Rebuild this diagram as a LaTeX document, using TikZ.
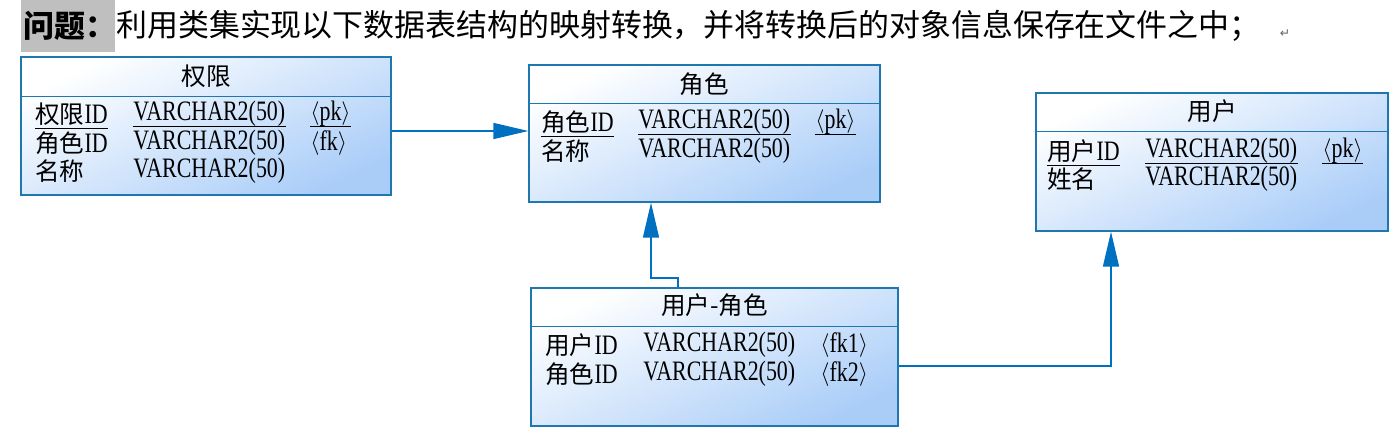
\documentclass[tikz,border=0pt]{standalone}
\usepackage{fontspec}
\setmainfont{Liberation Serif}[FakeStretch=0.78]
\newfontfamily\cjk{Noto Sans CJK SC}
\newfontfamily\sym{DejaVu Sans}
\usetikzlibrary{arrows.meta}
\definecolor{tblline}{RGB}{30,120,175}
\definecolor{tblfill}{RGB}{170,205,248}
\definecolor{fkline}{RGB}{0,112,192}
\newcommand{\zh}[1]{{\cjk\fontsize{14}{17}\selectfont #1}}
\newcommand{\ky}[1]{\raisebox{0.6pt}{\scalebox{0.78}{$\langle$}}#1\raisebox{0.6pt}{\scalebox{0.78}{$\rangle$}}}

\tikzset{tbl/.style={draw=tblline,line width=0.8pt,top color=white,bottom color=tblfill,shading angle=25,inner sep=0pt},
	tblname/.style={font=\cjk\fontsize{14}{16}\selectfont,inner sep=0pt},
	col/.style={anchor=west,inner sep=0pt,font=\fontsize{16}{17}\selectfont},
	pkline/.style={black,line width=0.6pt},
	fk/.style={draw=fkline,line width=0.85pt,-{Triangle[length=0.7cm,width=0.32cm]}}}

\begin{document}
\begin{tikzpicture}[x=0.02cm,y=-0.02cm]
		\useasboundingbox (0,0) rectangle (1400,435);

		% title
		\node[fill=black!25,minimum width=1.88cm,minimum height=1.04cm,inner sep=0pt] (tbox) at (68,26) {};
		\node[anchor=west,inner sep=0pt,font=\cjk\fontsize{17.6}{20}\selectfont\bfseries] (tq) at (23,26) {问题：};
		\node[anchor=west,inner sep=0pt,font=\cjk\fontsize{17.6}{20}\selectfont] (tt) at (116,26) {利用类集实现以下数据表结构的映射转换，并将转换后的对象信息保存在文件之中；};
		\node[inner sep=0pt,font=\sym\fontsize{7}{8}\selectfont,text=black!60] (tr) at (1285,34) {↵};

		% 权限
		\node[tbl,minimum width=7.4cm,minimum height=2.76cm] (qx) at (206,126) {};
		\draw[tblline,line width=0.8pt] ([yshift=-0.8cm]qx.north west) -- ([yshift=-0.8cm]qx.north east);
		\node[tblname] (qxn) at (206,76) {权限};
		\node[col] (qx1a) at (35,114) {\zh{权限}ID};
		\node[col] (qx1b) at (133,114) {VARCHAR2(50)};
		\node[col] (qx1c) at (310,114) {\ky{pk}};
		\node[col] (qx2a) at (35,143) {\zh{角色}ID};
		\node[col] (qx2b) at (133,143) {VARCHAR2(50)};
		\node[col] (qx2c) at (310,143) {\ky{fk}};
		\node[col] (qx3a) at (35,171) {\zh{名称}};
		\node[col] (qx3b) at (133,171) {VARCHAR2(50)};

		% 角色
		\node[tbl,minimum width=7.02cm,minimum height=2.74cm] (js) at (704.5,133.5) {};
		\draw[tblline,line width=0.8pt] ([yshift=-0.78cm]js.north west) -- ([yshift=-0.78cm]js.north east);
		\node[tblname] (jsn) at (704.5,84) {角色};
		\node[col] (js1a) at (541,122) {\zh{角色}ID};
		\node[col] (js1b) at (638,122) {VARCHAR2(50)};
		\node[col] (js1c) at (815,122) {\ky{pk}};
		\node[col] (js2a) at (541,151) {\zh{名称}};
		\node[col] (js2b) at (638,151) {VARCHAR2(50)};

		% 用户
		\node[tbl,minimum width=7.04cm,minimum height=2.76cm] (yh) at (1212,162) {};
		\draw[tblline,line width=0.8pt] ([yshift=-0.78cm]yh.north west) -- ([yshift=-0.78cm]yh.north east);
		\node[tblname] (yhn) at (1212,111) {用户};
		\node[col] (yh1a) at (1047,151) {\zh{用户}ID};
		\node[col] (yh1b) at (1145,151) {VARCHAR2(50)};
		\node[col] (yh1c) at (1322,151) {\ky{pk}};
		\node[col] (yh2a) at (1047,179) {\zh{姓名}};
		\node[col] (yh2b) at (1145,179) {VARCHAR2(50)};

		% 用户-角色
		\node[tbl,minimum width=7.34cm,minimum height=2.76cm] (ujs) at (714.5,357) {};
		\draw[tblline,line width=0.8pt] ([yshift=-0.78cm]ujs.north west) -- ([yshift=-0.78cm]ujs.north east);
		\node[tblname] (ujsn) at (714.5,305) {用户-角色};
		\node[col] (ujs1a) at (545,345) {\zh{用户}ID};
		\node[col] (ujs1b) at (643,345) {VARCHAR2(50)};
		\node[col] (ujs1c) at (820,345) {\ky{fk1}};
		\node[col] (ujs2a) at (545,374) {\zh{角色}ID};
		\node[col] (ujs2b) at (643,374) {VARCHAR2(50)};
		\node[col] (ujs2c) at (820,374) {\ky{fk2}};

		% primary keys
		\foreach \k in {qx1a,qx1b,qx1c,js1a,js1b,js1c,yh1a,yh1b,yh1c}
			\draw[pkline] ([yshift=-3pt]\k.base west) -- ([yshift=-3pt]\k.base east);

		% references
		\draw[fk] (qx.east |- 0,131) -- (js.west |- 0,131);
		\draw[fk] (ujs.north -| 678,0) |- (651,278) -- (js.south -| 651,0);
		\draw[fk] (ujs.east |- 0,366) -| (yh.south -| 1111,0);
	\end{tikzpicture}
\end{document}
